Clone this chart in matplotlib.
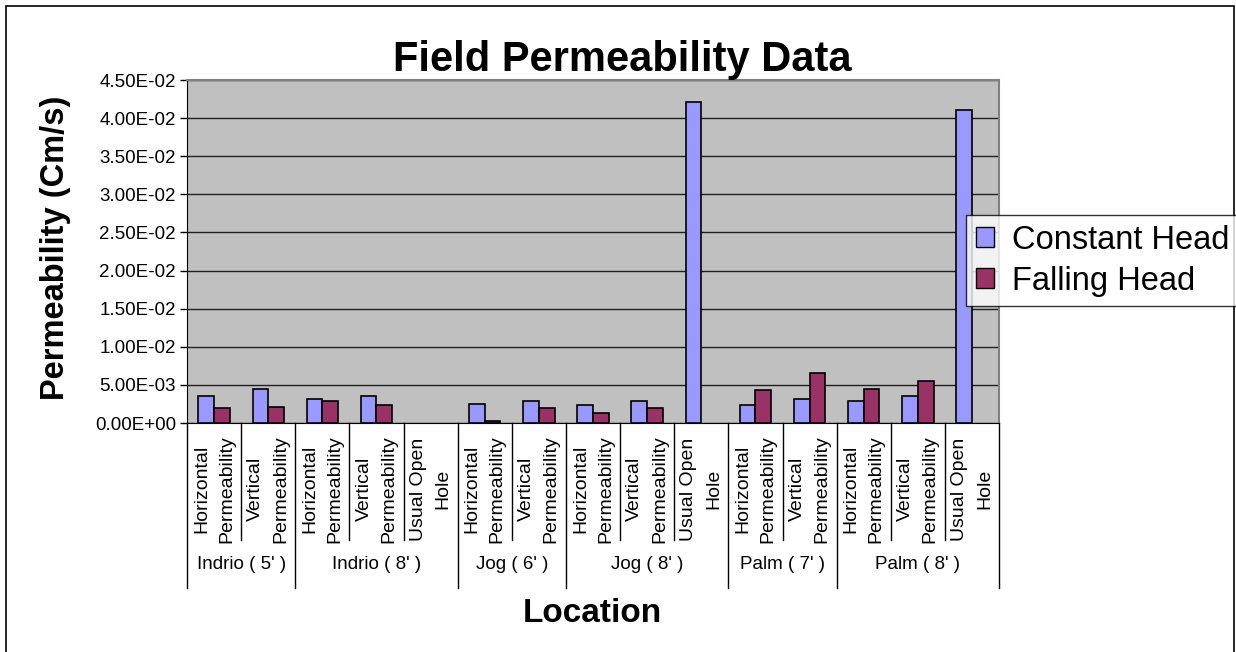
import numpy as np
import matplotlib.pyplot as plt
from matplotlib.patches import Rectangle
from matplotlib.lines import Line2D

plt.rcParams['font.family'] = ['Liberation Sans', 'DejaVu Sans']

# data
groups = ["Indrio ( 5' )", "Indrio ( 8' )", "Jog ( 6' )", "Jog ( 8' )", "Palm ( 7' )", "Palm ( 8' )"]
group_items = [
    ["Horizontal\nPermeability", "Vertical\nPermeability"],
    ["Horizontal\nPermeability", "Vertical\nPermeability", "Usual Open\nHole"],
    ["Horizontal\nPermeability", "Vertical\nPermeability"],
    ["Horizontal\nPermeability", "Vertical\nPermeability", "Usual Open\nHole"],
    ["Horizontal\nPermeability", "Vertical\nPermeability"],
    ["Horizontal\nPermeability", "Vertical\nPermeability", "Usual Open\nHole"],
]
constant_head = [0.00354, 0.0045, 0.00315, 0.00354, 0.0, 0.00254, 0.00293,
                 0.00236, 0.00293, 0.0421, 0.00236, 0.00315, 0.00293, 0.00354, 0.0410]
falling_head = [0.00193, 0.00214, 0.00289, 0.00236, 0.0, 0.0002, 0.00193,
                0.00136, 0.00193, 0.0, 0.00433, 0.00652, 0.0045, 0.0055, 0.0]

labels = [lab for g in group_items for lab in g]
n = len(labels)
x = np.arange(n)

fig = plt.figure(figsize=(12.36, 6.52), dpi=100)
ax = fig.add_axes([0.1513, 0.3512, 0.657, 0.5261])
ax.set_facecolor('#C0C0C0')

w = 0.29
const_c = '#9999FF'
fall_c = '#993366'
for i in range(n):
    if constant_head[i] > 0:
        ax.bar(x[i] - w / 2, constant_head[i], w, color=const_c, edgecolor='black', linewidth=1.2, zorder=3)
    if falling_head[i] > 0:
        ax.bar(x[i] + w / 2, falling_head[i], w, color=fall_c, edgecolor='black', linewidth=1.2, zorder=3)

ax.set_xlim(-0.5, n - 0.5)
ax.set_ylim(0, 0.045)
yt = np.arange(0, 0.0451, 0.005)
ax.set_yticks(yt)
ax.set_yticklabels(['%.2E' % v for v in yt], fontsize=13.5)
ax.yaxis.grid(True, color='#202020', linewidth=1)
ax.set_axisbelow(True)
ax.tick_params(axis='y', length=5, width=1, pad=3)
ax.set_xticks([])
for s in ['top', 'right']:
    ax.spines[s].set_color('#808080')
    ax.spines[s].set_linewidth(1.5)
ax.spines['left'].set_color('black')
ax.spines['bottom'].set_color('black')

# category axis: two-level labels
trans = ax.get_xaxis_transform()
ax_h = 0.5261 * 652  # axes height in px
def yoff(px):
    return -px / ax_h

pos = 0
bounds = [0]
for g in group_items:
    pos += len(g)
    bounds.append(pos)
for i in range(n + 1):
    edge = i - 0.5
    if i in bounds:
        ax.add_line(Line2D([edge, edge], [0, yoff(165)], transform=trans, color='black', lw=1, clip_on=False))
    else:
        ax.add_line(Line2D([edge, edge], [0, yoff(117)], transform=trans, color='black', lw=1, clip_on=False))
for i, lab in enumerate(labels):
    ax.text(x[i], yoff(66), lab, transform=trans, rotation=90, ha='center', va='center',
            multialignment='center', fontsize=14, linespacing=1.6)
for gi, g in enumerate(groups):
    c = (bounds[gi] + bounds[gi + 1] - 1) / 2
    ax.text(c, yoff(141), g, transform=trans, ha='center', va='center', fontsize=13.5)

fig.text(0.5032, 0.908, 'Field Permeability Data', ha='center', va='center', fontsize=30, fontweight='bold')
fig.text(0.479, 0.059, 'Location', ha='center', va='center', fontsize=24, fontweight='bold')
fig.text(0.0445, 0.62, 'Permeability (Cm/s)', ha='center', va='center', rotation=90, fontsize=23.5, fontweight='bold')

handles = [Rectangle((0, 0), 1, 1, facecolor=const_c, edgecolor='black', lw=1),
           Rectangle((0, 0), 1, 1, facecolor=fall_c, edgecolor='black', lw=1)]
leg = fig.legend(handles, ['Constant Head', 'Falling Head'], loc='upper left',
                 bbox_to_anchor=(966 / 1236, 1 - 215 / 652), fontsize=23.5, frameon=True,
                 fancybox=False, edgecolor='black', handlelength=0.55, handleheight=0.55,
                 handletextpad=0.55, borderpad=0.3, labelspacing=0.3, borderaxespad=0)
leg.get_frame().set_linewidth(1)

fig.add_artist(Rectangle((6 / 1236, -0.1), (1234 - 6) / 1236, 1.1 - 6 / 652, transform=fig.transFigure,
                         fill=False, edgecolor='black', lw=1.2, zorder=0))

fig.savefig('out.png', dpi=100)
